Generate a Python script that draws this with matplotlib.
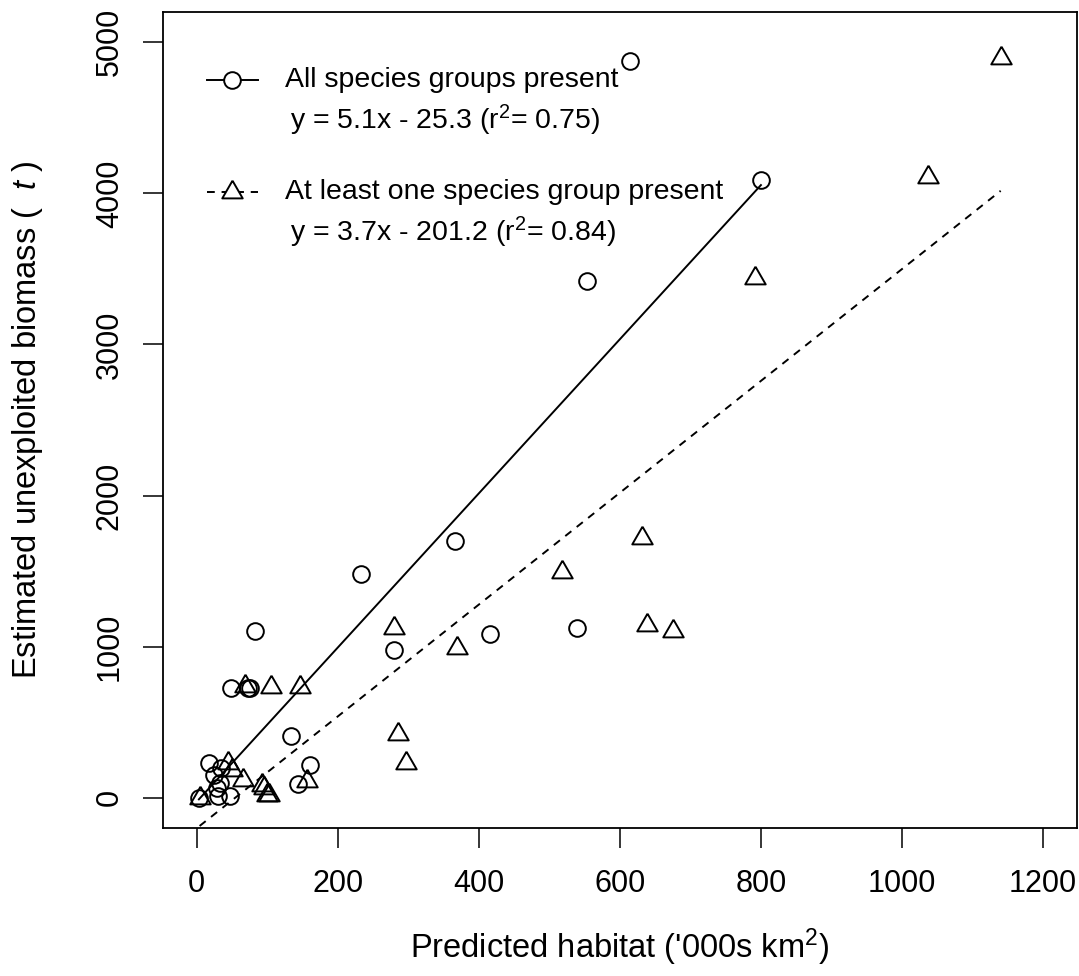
import matplotlib
matplotlib.use("Agg")
import matplotlib.pyplot as plt
import numpy as np

plt.rcParams['font.family'] = ['Liberation Sans', 'DejaVu Sans']
plt.rcParams['mathtext.fontset'] = 'custom'
plt.rcParams['mathtext.rm'] = 'Liberation Sans'
plt.rcParams['mathtext.it'] = 'Liberation Sans:italic'
plt.rcParams['font.size'] = 20.5
plt.rcParams['xtick.labelsize'] = 22
plt.rcParams['ytick.labelsize'] = 22
plt.rcParams['axes.labelsize'] = 23.5

# All species groups present (circles)
all_x = [615, 800, 553, 366, 233, 83, 280, 416, 539, 48, 72, 76,
         134, 161, 144, 18, 24, 35, 33, 28, 30, 47, 3]
all_y = [4875, 4090, 3417, 1702, 1484, 1102, 976, 1082, 1121, 726, 726, 726,
         409, 218, 92, 231, 152, 198, 99, 66, 13, 13, 0]

# At least one species group present (triangles)
one_x = [1140, 1037, 791, 631, 518, 280, 369, 638, 675, 286, 297, 105,
         146, 68, 157, 96, 100, 103, 44, 50, 65, 4, 92]
one_y = [4894, 4110, 3443, 1722, 1497, 1121, 989, 1141, 1101, 422, 231, 732,
         732, 738, 112, 66, 20, 20, 231, 185, 119, 0, 86]

# fitted lines from the legend
fit_all = (5.1, -25.3, 0.75)
fit_one = (3.7, -201.2, 0.84)

xticks = [0, 200, 400, 600, 800, 1000, 1200]
yticks = [0, 1000, 2000, 3000, 4000, 5000]

# equilateral open triangle like R pch=2
tri = [(0, 1), (-0.866, -0.5), (0.866, -0.5), (0, 1)]

fig = plt.figure(figsize=(10.79, 9.76), dpi=100)
ax = fig.add_axes([0.151, 0.1516, 0.847, 0.8361])

xs = np.array([min(all_x), max(all_x)])
ax.plot(xs, fit_all[0] * xs + fit_all[1], color='black', lw=1.4)
xs = np.array([min(one_x), max(one_x)])
ax.plot(xs, fit_one[0] * xs + fit_one[1], color='black', lw=1.4,
        linestyle=(0, (4, 3.5)))

ax.plot(all_x, all_y, linestyle='none', marker='o', ms=12, mfc='none',
        mec='black', mew=1.4)
ax.plot(one_x, one_y, linestyle='none', marker=tri, ms=17, mfc='none',
        mec='black', mew=1.4)

ax.set_xlim(-48, 1248)
ax.set_ylim(-200, 5200)
ax.set_xticks(xticks)
ax.set_yticks(yticks)
ax.tick_params(direction='out', length=14.4, width=1.1)
ax.tick_params(axis='x', pad=15)
ax.tick_params(axis='y', labelrotation=90, pad=13)
for lab in ax.get_yticklabels():
    lab.set_va('center')
for sp in ax.spines.values():
    sp.set_linewidth(1.3)

ax.set_xlabel("Predicted habitat ('000s km$^2$)", labelpad=20)
ax.set_ylabel("Estimated unexploited biomass (  $t$ )", labelpad=36)

# legend drawn by hand to match the layout
tr = ax.transAxes
ax.plot([0.048, 0.104], [0.9167, 0.9167], color='black', lw=1.4,
        transform=tr, clip_on=False)
ax.plot([0.076], [0.9167], marker='o', ms=12, mfc='white', mec='black',
        mew=1.4, transform=tr, clip_on=False)
ax.plot([0.048, 0.104], [0.779, 0.779], color='black', lw=1.4,
        linestyle=(0, (4, 3.5)), transform=tr, clip_on=False)
ax.plot([0.076], [0.779], marker=tri, ms=17, mfc='white', mec='black',
        mew=1.4, transform=tr, clip_on=False)

ax.text(0.1335, 0.9167, "All species groups present", transform=tr,
        va='center', ha='left')
ax.text(0.139, 0.8676,
        "y = %.1fx - %.1f (r$^2$= %.2f)" % (fit_all[0], -fit_all[1], fit_all[2]),
        transform=tr, va='center', ha='left')
ax.text(0.1335, 0.779, "At least one species group present", transform=tr,
        va='center', ha='left')
ax.text(0.139, 0.730,
        "y = %.1fx - %.1f (r$^2$= %.2f)" % (fit_one[0], -fit_one[1], fit_one[2]),
        transform=tr, va='center', ha='left')

fig.savefig('out.png', dpi=100, facecolor='white')
